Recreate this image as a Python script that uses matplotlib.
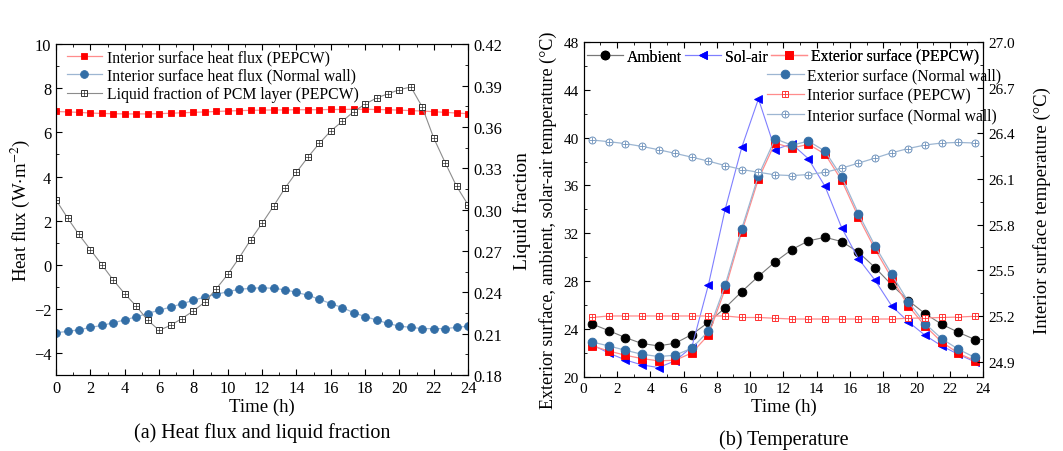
"""Heat flux / liquid fraction and temperature profiles of PEPCW vs normal wall."""

import matplotlib

matplotlib.use("Agg")

import matplotlib.pyplot as plt
from matplotlib.ticker import MultipleLocator, FormatStrFormatter

plt.rcParams["font.family"] = ["Liberation Serif", "DejaVu Serif"]
plt.rcParams["mathtext.fontset"] = "stix"
plt.rcParams["xtick.direction"] = "in"
plt.rcParams["ytick.direction"] = "in"

# ---- panel (a) data ----
time_a = [0, 0.67, 1.33, 2, 2.67, 3.33, 4, 4.67, 5.33, 6, 6.67, 7.33, 8, 8.67,
          9.33, 10, 10.67, 11.33, 12, 12.67, 13.33, 14, 14.67, 15.33, 16, 16.67,
          17.33, 18, 18.67, 19.33, 20, 20.67, 21.33, 22, 22.67, 23.33, 24]
flux_pepcw = [6.95, 6.93, 6.91, 6.88, 6.86, 6.85, 6.84, 6.84, 6.84, 6.85, 6.87,
              6.89, 6.91, 6.93, 6.95, 6.97, 6.99, 7.00, 7.01, 7.02, 7.02, 7.03,
              7.03, 7.03, 7.04, 7.04, 7.05, 7.05, 7.04, 7.03, 7.01, 6.99, 6.97,
              6.94, 6.91, 6.88, 6.85]
flux_normal = [-3.08, -3.02, -2.95, -2.84, -2.75, -2.63, -2.50, -2.36, -2.21,
               -2.06, -1.92, -1.77, -1.61, -1.46, -1.34, -1.22, -1.11, -1.07,
               -1.04, -1.07, -1.13, -1.25, -1.38, -1.56, -1.76, -1.94, -2.17,
               -2.35, -2.50, -2.66, -2.78, -2.84, -2.89, -2.90, -2.89, -2.84, -2.78]
liquid_frac = [0.307, 0.294, 0.282, 0.271, 0.260, 0.249, 0.239, 0.230, 0.220,
               0.2125, 0.216, 0.221, 0.2265, 0.233, 0.2425, 0.253, 0.265, 0.278,
               0.290, 0.3025, 0.3155, 0.327, 0.338, 0.348, 0.357, 0.364, 0.371,
               0.3765, 0.381, 0.384, 0.387, 0.389, 0.3745, 0.352, 0.334, 0.317, 0.3035]

# ---- panel (b) data ----
time_b = [0.5, 1.5, 2.5, 3.5, 4.5, 5.5, 6.5, 7.5, 8.5, 9.5, 10.5, 11.5, 12.5,
          13.5, 14.5, 15.5, 16.5, 17.5, 18.5, 19.5, 20.5, 21.5, 22.5, 23.5]
t_ambient = [24.43, 23.87, 23.29, 22.79, 22.59, 22.81, 23.54, 24.57, 25.77,
             27.13, 28.41, 29.61, 30.64, 31.37, 31.67, 31.31, 30.42, 29.14,
             27.69, 26.38, 25.29, 24.40, 23.73, 23.12]
t_solair = [22.7, 22.0, 21.42, 21.0, 20.78, 21.34, 22.5, 27.72, 34.0, 39.2,
            43.24, 39.0, 39.48, 38.23, 35.92, 32.45, 29.89, 28.08, 25.93, 24.6,
            23.48, 22.59, 21.89, 21.25]
t_ext_pepcw = [22.59, 22.17, 21.81, 21.53, 21.34, 21.39, 22.0, 23.51, 27.33,
               32.14, 36.55, 39.56, 39.12, 39.45, 38.62, 36.42, 33.37, 30.67,
               28.27, 25.93, 24.26, 22.92, 21.98, 21.34]
t_ext_normal = [22.92, 22.59, 22.23, 21.89, 21.70, 21.81, 22.40, 23.82, 27.66,
                32.40, 36.83, 39.90, 39.37, 39.71, 38.87, 36.72, 33.65, 30.95,
                28.58, 26.27, 24.46, 23.20, 22.31, 21.62]
t_int_pepcw = [25.19, 25.20, 25.20, 25.20, 25.20, 25.20, 25.20, 25.20, 25.20,
               25.19, 25.19, 25.185, 25.18, 25.18, 25.18, 25.18, 25.18, 25.18,
               25.18, 25.185, 25.187, 25.19, 25.193, 25.198]
t_int_normal = [26.356, 26.345, 26.332, 26.314, 26.292, 26.268, 26.243, 26.217,
                26.188, 26.162, 26.144, 26.127, 26.122, 26.129, 26.144, 26.171,
                26.204, 26.237, 26.272, 26.300, 26.323, 26.336, 26.340, 26.336]

RED = "#ff0000"
RED_LINE = "#ff8c8c"
STEEL = "#336ea6"
STEEL_LINE = "#9db6d2"

fig = plt.figure(figsize=(10.63, 4.52), dpi=100)


def style_ticks(ax, size):
    ax.tick_params(axis="both", which="both", labelsize=size)
    ax.tick_params(which="major", length=4)
    ax.tick_params(which="minor", length=2.5)


# ================= (a) =================
ax1 = fig.add_axes([0.0527, 0.168, 0.3876, 0.732])
ax1b = ax1.twinx()

h1, = ax1.plot(time_a, flux_pepcw, color=RED_LINE, lw=0.9, marker="s", ms=4.8,
               mfc=RED, mec=RED, mew=0.6)
h2, = ax1.plot(time_a, flux_normal, color=STEEL_LINE, lw=0.9, marker="o", ms=5.6,
               mfc=STEEL, mec=STEEL, mew=0.6)
h3a, = ax1b.plot(time_a, liquid_frac, color="#8c8c8c", lw=0.8, marker="s", ms=4.4,
                 mfc="white", mec="#333333", mew=0.7)
h3b, = ax1b.plot(time_a, liquid_frac, ls="none", marker="+", ms=4.4,
                 mec="#333333", mew=0.5)

ax1.set_xlim(0, 24)
ax1.set_ylim(-5, 10)
ax1b.set_ylim(0.18, 0.42)
ax1.xaxis.set_major_locator(MultipleLocator(2))
ax1.xaxis.set_minor_locator(MultipleLocator(1))
ax1.yaxis.set_major_locator(MultipleLocator(2))
ax1.yaxis.set_minor_locator(MultipleLocator(1))
ax1b.yaxis.set_major_locator(MultipleLocator(0.03))
ax1b.yaxis.set_minor_locator(MultipleLocator(0.015))
ax1b.yaxis.set_major_formatter(FormatStrFormatter("%.2f"))
ax1.tick_params(axis="x", which="both", top=True)
style_ticks(ax1, 11.8)
style_ticks(ax1b, 11.8)
ax1.set_xlabel("Time (h)", fontsize=13.5, labelpad=1)
ax1.set_ylabel(r"Heat flux (W$\cdot$m$^{-2}$)", fontsize=13.5, labelpad=1)
ax1b.set_ylabel("Liquid fraction", fontsize=14, labelpad=8)

ax1.legend([h1, h2, (h3a, h3b)],
           ["Interior surface heat flux (PEPCW)",
            "Interior surface heat flux (Normal wall)",
            "Liquid fraction of PCM layer (PEPCW)"],
           loc="upper left", bbox_to_anchor=(0.026, 0.985), frameon=False,
           fontsize=11.3, borderpad=0, borderaxespad=0, handlelength=2.25,
           handletextpad=0.3, labelspacing=0.17)
fig.text(0.0527 + 0.3876 / 2, 0.02, "(a) Heat flux and liquid fraction",
         ha="center", va="bottom", fontsize=14.5)

# ================= (b) =================
ax2 = fig.add_axes([0.549, 0.164, 0.376, 0.741])
ax2b = ax2.twinx()

g1, = ax2.plot(time_b, t_ambient, color="#777777", lw=0.8, marker="o", ms=6.3,
               mfc="black", mec="black", mew=0.6)
g2, = ax2.plot(time_b, t_solair, color="#7f7fff", lw=0.8, marker="<", ms=6.3,
               mfc="#0000ff", mec="#0000ff", mew=0.6)
g3, = ax2.plot(time_b, t_ext_pepcw, color=RED_LINE, lw=0.9, marker="s", ms=5.4,
               mfc=RED, mec=RED, mew=0.6)
g4, = ax2.plot(time_b, t_ext_normal, color=STEEL_LINE, lw=0.9, marker="o", ms=6.3,
               mfc=STEEL, mec=STEEL, mew=0.6)
g5a, = ax2b.plot(time_b, t_int_pepcw, color=RED_LINE, lw=0.9, marker="s", ms=4.6,
                 mfc="white", mec="#ff3030", mew=0.7)
g5b, = ax2b.plot(time_b, t_int_pepcw, ls="none", marker="+", ms=4.6,
                 mec="#ff3030", mew=0.6)
g6a, = ax2b.plot(time_b, t_int_normal, color=STEEL_LINE, lw=0.9, marker="o", ms=5,
                 mfc="white", mec="#6e92bb", mew=0.7)
g6b, = ax2b.plot(time_b, t_int_normal, ls="none", marker="+", ms=5,
                 mec="#6e92bb", mew=0.6)

ax2.set_xlim(0, 24)
ax2.set_ylim(20, 48)
ax2b.set_ylim(24.8, 27.0)
ax2.xaxis.set_major_locator(MultipleLocator(2))
ax2.xaxis.set_minor_locator(MultipleLocator(1))
ax2.yaxis.set_major_locator(MultipleLocator(4))
ax2.yaxis.set_minor_locator(MultipleLocator(2))
ax2b.set_yticks([24.9, 25.2, 25.5, 25.8, 26.1, 26.4, 26.7, 27.0])
ax2b.set_yticks([24.9 + 0.15 * k for k in range(15)], minor=True)
ax2b.yaxis.set_major_formatter(FormatStrFormatter("%.1f"))
ax2.tick_params(axis="x", which="both", top=True)
style_ticks(ax2, 11)
style_ticks(ax2b, 11)
ax2.set_xlabel("Time (h)", fontsize=13.5, labelpad=2)
ax2.set_ylabel("Exterior surface, ambient, solar-air temperature (°C)",
               fontsize=13, labelpad=2)
ax2.yaxis.set_label_coords(-0.066, 0.47)
ax2b.set_ylabel("Interior surface temperature (°C)", fontsize=13.5, labelpad=13)

leg_top = ax2.legend([g1, g2, g3],
                     ["Ambient", "Sol-air", "Exterior surface (PEPCW)"],
                     loc="upper left", bbox_to_anchor=(0.008, 0.98), ncol=3,
                     frameon=False, fontsize=11.3, borderpad=0, borderaxespad=0,
                     handlelength=2.3, handletextpad=0.25, columnspacing=0.2)
ax2.add_artist(leg_top)
ax2b.legend([g4, (g5a, g5b), (g6a, g6b)],
            ["Exterior surface (Normal wall)", "Interior surface (PEPCW)",
             "Interior surface (Normal wall)"],
            loc="upper left", bbox_to_anchor=(0.46, 0.923), frameon=False,
            fontsize=11.3, borderpad=0, borderaxespad=0, handlelength=2.3,
            handletextpad=0.25, labelspacing=0.25)
fig.text(0.549 + 0.376 / 2, 0.005, "(b) Temperature",
         ha="center", va="bottom", fontsize=14.5)

fig.savefig("out.png", dpi=100)
plt.close(fig)
